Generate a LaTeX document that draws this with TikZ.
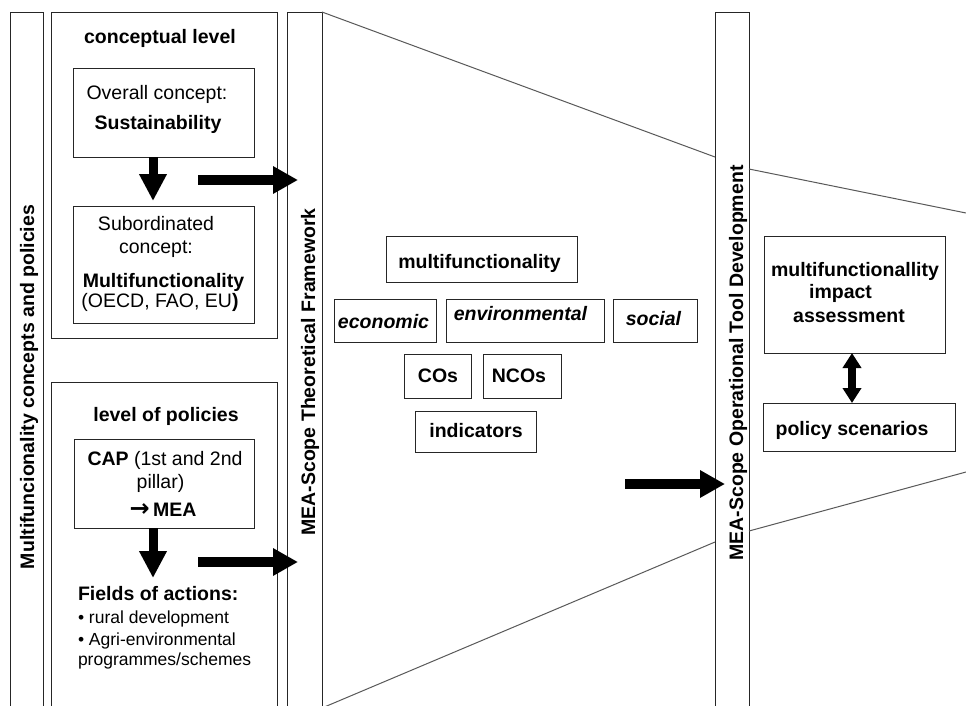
\documentclass[tikz,border=0pt]{standalone}
\usepackage{fontspec}
\setmainfont{Liberation Sans}
\newfontfamily\arrowfont{DejaVu Sans}
\usetikzlibrary{arrows.meta,calc}
\begin{document}
\begin{tikzpicture}[x=1pt,y=-1pt,
  box/.style={draw=black!85, line width=1pt, inner sep=0pt, outer sep=0pt},
  txt/.style={inner sep=0pt, outer sep=0pt, anchor=base, font=\fontsize{19.5}{23}\selectfont},
  btxt/.style={txt, font=\fontsize{19.5}{23}\selectfont\bfseries},
  itxt/.style={txt, font=\fontsize{19.5}{23}\selectfont\bfseries\itshape},
  ltxt/.style={inner sep=0pt, outer sep=0pt, anchor=base west, font=\fontsize{17.5}{21}\selectfont},
  vtxt/.style={btxt, rotate=90},
  trap/.style={draw=black!65, line width=1pt},
  blockarrow/.style={line width=10pt, -{Triangle[length=25pt,width=26pt]}},
  downarrow/.style={line width=9pt, -{Triangle[length=27pt,width=26pt]}},
  twoway/.style={line width=8pt, {Triangle[length=15pt,width=18pt]}-{Triangle[length=15pt,width=18pt]}}
]
\useasboundingbox (0,0) rectangle (966,705);
\fill[white] (0,0) rectangle (966,705);

% vertical bars
\node[box, minimum width=33pt, minimum height=700pt] (lbar) at (26.5,362) {};
\node[box, minimum width=35pt, minimum height=700pt] (tbar) at (304.5,362) {};
\node[box, minimum width=34pt, minimum height=700pt] (obar) at (732,362) {};

\node[vtxt] (lbartxt) at (34,387) {Multifuncionality concepts and policies};
\node[vtxt] (tbartxt) at (315,372) {MEA-Scope Theoretical Framework};
\node[vtxt] (obartxt) at (743,363) {MEA-Scope Operational Tool Development};

% funnel outline
\draw[trap] (tbar.north east) -- (715,157);
\draw[trap] (749,169) -- (966,213);
\draw[trap] (322,708) -- (715,542);
\draw[trap] (749,531) -- (966,472);

% conceptual level
\node[box, minimum width=226pt, minimum height=326pt] (concbox) at (164,175) {};
\node[btxt] (conctitle) at (160,43) {conceptual level};
\node[box, minimum width=181pt, minimum height=89pt] (sus) at (163.5,112.5) {};
\node[txt] (sus1) at (157,99) {Overall concept:};
\node[btxt] (sus2) at (158,129) {Sustainability};
\node[box, minimum width=181pt, minimum height=117pt] (mf) at (163.5,264.5) {};
\node[txt] (mf1) at (156,230) {Subordinated};
\node[txt] (mf2) at (156,253) {concept:};
\node[btxt] (mf3) at (163.5,287) {Multifunctionality};
\node[txt] (mf4) at (160,307) {(OECD, FAO, EU\textbf{)}};

% level of policies
\node[box, minimum width=226pt, minimum height=338pt] (polbox) at (164,551) {};
\node[btxt] (poltitle) at (166,421) {level of policies};
\node[box, minimum width=180pt, minimum height=89pt] (cap) at (164,483.5) {};
\node[txt] (cap1) at (165,465) {\textbf{CAP} (1st and 2nd};
\node[txt] (cap2) at (160.5,488) {pillar)};
\node[btxt] (cap3) at (163,516) {{\arrowfont\fontsize{24}{28}\selectfont →}\,MEA};
\coordinate (fld) at (153,578);
\node[btxt, anchor=base west] (fldtitle) at (78,600) {Fields of actions:};
\node[ltxt] (fld1) at (78,623) {• rural development};
\node[ltxt] (fld2) at (78,645) {• Agri-environmental};
\node[ltxt] (fld3) at (78,665) {programmes/schemes};

% theoretical framework
\node[box, minimum width=191pt, minimum height=46pt] (mfc) at (481.5,259) {};
\node[btxt] (mfctxt) at (479.5,268) {multifunctionality};
\node[box, minimum width=102pt, minimum height=43pt] (eco) at (385,320.5) {};
\node[itxt] (ecotxt) at (383.5,328) {economic};
\node[box, minimum width=158pt, minimum height=43pt] (env) at (525,320.5) {};
\node[itxt] (envtxt) at (520.5,320) {environmental};
\node[box, minimum width=84pt, minimum height=43pt] (soc) at (655,320.5) {};
\node[itxt] (soctxt) at (653.5,325) {social};
\node[box, minimum width=67pt, minimum height=44pt] (cos) at (437.5,376) {};
\node[btxt] (costxt) at (438,382) {COs};
\node[box, minimum width=78pt, minimum height=44pt] (ncos) at (522,376) {};
\node[btxt] (ncostxt) at (519,382) {NCOs};
\node[box, minimum width=121pt, minimum height=41pt] (ind) at (475.5,431.5) {};
\node[btxt] (indtxt) at (476,437) {indicators};

% operational tool development
\node[box, minimum width=181pt, minimum height=117pt] (mia) at (854.5,294.5) {};
\node[btxt] (mia1) at (855,276) {multifunctionallity};
\node[btxt] (mia2) at (840.5,298) {impact};
\node[btxt] (mia3) at (849,322) {assessment};
\node[box, minimum width=192pt, minimum height=48pt] (pol) at (859,427) {};
\node[btxt] (poltxt) at (852,435) {policy scenarios};

% arrows
\coordinate (c1) at (198,180);
\coordinate (c2) at (198,562);
\coordinate (c3) at (625,484);
\draw[downarrow] ($(sus.south)+(-10.5,0)$) -- ($(mf.north)+(-10.5,-5)$);
\draw[downarrow] ($(cap.south)+(-11,0)$) -- (fld);
\draw[blockarrow] (c1) -- ($(tbar.west |- c1)+(11,0)$);
\draw[blockarrow] (c2) -- ($(tbar.west |- c2)+(11,0)$);
\draw[blockarrow] (c3) -- ($(obar.west |- c3)+(10,0)$);
\draw[twoway] ($(mia.south)+(-2.5,0)$) -- ($(pol.north)+(-7,0)$);
\end{tikzpicture}
\end{document}
